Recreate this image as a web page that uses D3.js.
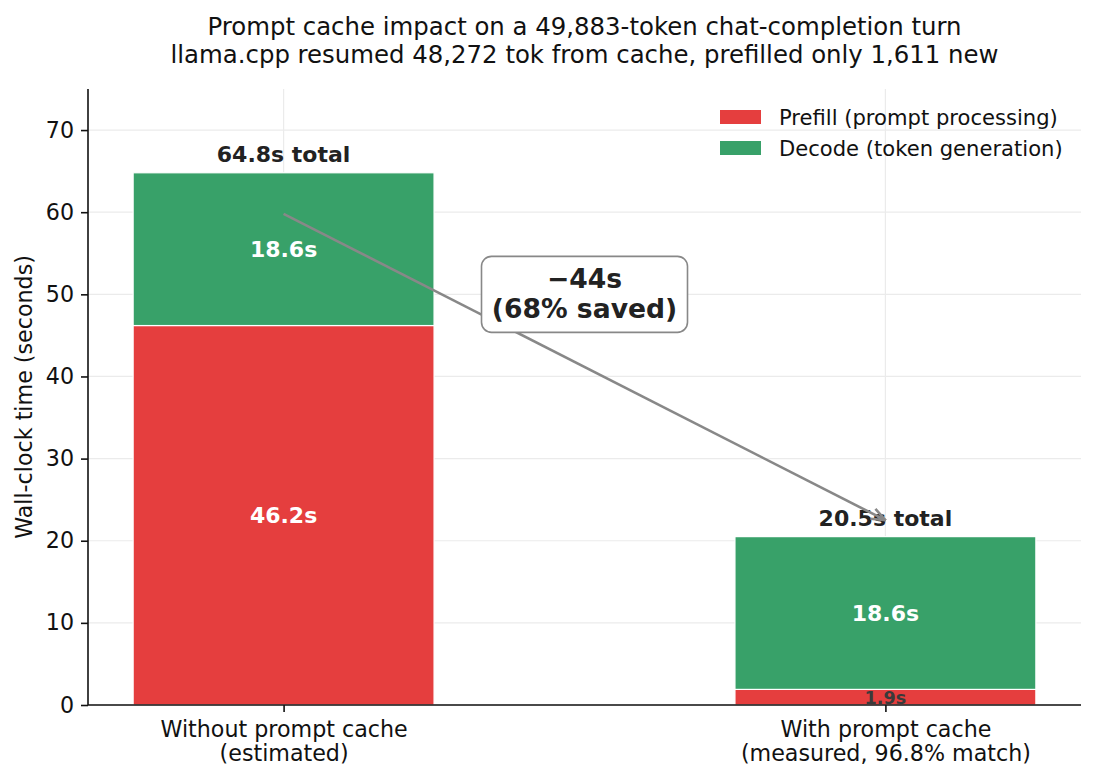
<!DOCTYPE html>
<html>
<head>
<meta charset="utf-8">
<script src="https://cdn.jsdelivr.net/npm/d3@7"></script>
<style>
  body { margin: 0; background: #fff; }
  svg text { font-family: "DejaVu Sans", sans-serif; }
</style>
</head>
<body>
<div id="chart"></div>
<script>
// data
const categories = ["Without prompt cache", "With prompt cache"];
const subLabels = ["(estimated)", "(measured, 96.8% match)"];
const prefill = [46.2, 1.9];
const decode = [18.6, 18.6];
const yTicks = [0, 10, 20, 30, 40, 50, 60, 70];
const seriesNames = ["Prefill (prompt processing)", "Decode (token generation)"];
const seriesColors = ["#e53e3e", "#38a169"];
const titleLines = [
  "Prompt cache impact on a 49,883-token chat-completion turn",
  "llama.cpp resumed 48,272 tok from cache, prefilled only 1,611 new"
];

var W = 1096, H = 780;
var margin = {top: 89, right: 15, bottom: 75, left: 88},
    width = W - margin.left - margin.right,
    height = H - margin.top - margin.bottom;

var totals = prefill.map(function(d, i) { return d + decode[i]; });

var x = d3.scaleLinear().domain([-0.325, 1.325]).range([0, width]);
var y = d3.scaleLinear().domain([0, 75]).range([height, 0]);
var barW = x(0.5) - x(0);

var svg = d3.select("#chart").append("svg")
    .attr("width", W)
    .attr("height", H)
    .style("background", "#fff");

// title, centred over the axes
svg.selectAll("text.title")
    .data(titleLines)
    .enter().append("text")
    .attr("class", "title")
    .attr("x", margin.left + width / 2)
    .attr("y", function(d, i) { return 35 + i * 28; })
    .attr("text-anchor", "middle")
    .attr("font-size", 24.4)
    .attr("fill", "#111")
    .text(function(d) { return d; });

var g = svg.append("g")
    .attr("transform", "translate(" + margin.left + "," + margin.top + ")");

// grid
g.append("g").selectAll("line")
    .data(yTicks)
    .enter().append("line")
    .attr("x1", 0).attr("x2", width)
    .attr("y1", function(d) { return y(d); })
    .attr("y2", function(d) { return y(d); })
    .attr("stroke", "#ebebeb").attr("stroke-width", 1.2);

g.append("g").selectAll("line")
    .data([0, 1])
    .enter().append("line")
    .attr("x1", function(d) { return x(d); })
    .attr("x2", function(d) { return x(d); })
    .attr("y1", 0).attr("y2", height)
    .attr("stroke", "#ebebeb").attr("stroke-width", 1.2);

// stacked bars
var stacks = [prefill, decode];
stacks.forEach(function(vals, s) {
  g.append("g").selectAll("rect")
      .data(vals)
      .enter().append("rect")
      .attr("x", function(d, i) { return x(i) - barW / 2; })
      .attr("width", barW)
      .attr("y", function(d, i) { return y((s ? prefill[i] : 0) + d); })
      .attr("height", function(d) { return y(0) - y(d); })
      .attr("fill", seriesColors[s])
      .attr("stroke", "#fff")
      .attr("stroke-width", 1.2);
});

// segment labels
stacks.forEach(function(vals, s) {
  g.append("g").selectAll("text")
      .data(vals)
      .enter().append("text")
      .attr("x", function(d, i) { return x(i); })
      .attr("y", function(d, i) {
        var mid = (s ? prefill[i] : 0) + d / 2;
        return y(mid) + (d < 3 ? 6.4 : 8);
      })
      .attr("text-anchor", "middle")
      .attr("font-weight", "bold")
      .attr("font-size", function(d) { return d < 3 ? 17.6 : 22; })
      .attr("fill", function(d) { return d < 3 ? "#3a3a3a" : "#fff"; })
      .text(function(d) { return d.toFixed(1) + "s"; });
});

// total labels
g.append("g").selectAll("text")
    .data(totals)
    .enter().append("text")
    .attr("x", function(d, i) { return x(i); })
    .attr("y", function(d) { return y(d + 1) - 2.5; })
    .attr("text-anchor", "middle")
    .attr("font-weight", "bold")
    .attr("font-size", 22)
    .attr("fill", "#222")
    .text(function(d) { return d.toFixed(1) + "s total"; });

// arrow from first total to second total (drawn above the labels)
var defs = svg.append("defs");
defs.append("marker")
    .attr("id", "head")
    .attr("viewBox", "0 0 16 16")
    .attr("refX", 15).attr("refY", 8)
    .attr("markerWidth", 16).attr("markerHeight", 16)
    .attr("markerUnits", "userSpaceOnUse")
    .attr("orient", "auto")
  .append("path")
    .attr("d", "M1,2.5 L15,8 L1,13.5")
    .attr("fill", "none")
    .attr("stroke", "#888")
    .attr("stroke-width", 2.6);

g.append("line")
    .attr("x1", x(0)).attr("y1", y(totals[0] - 5))
    .attr("x2", x(1)).attr("y2", y(totals[1] + 2))
    .attr("stroke", "#888")
    .attr("stroke-width", 2.6)
    .attr("marker-end", "url(#head)");

// savings annotation box
var saved = totals[0] - totals[1];
var boxLines = ["\u2212" + Math.round(saved) + "s",
                "(" + Math.round(saved / totals[0] * 100) + "% saved)"];
var bx = x(0.5), by = y(50);
g.append("rect")
    .attr("x", bx - 103).attr("y", by - 38)
    .attr("width", 206).attr("height", 76)
    .attr("rx", 10)
    .attr("fill", "#fff")
    .attr("stroke", "#888")
    .attr("stroke-width", 1.6);
g.append("g").selectAll("text")
    .data(boxLines)
    .enter().append("text")
    .attr("x", bx)
    .attr("y", function(d, i) { return by - 6 + i * 30; })
    .attr("text-anchor", "middle")
    .attr("font-weight", "bold")
    .attr("font-size", 26.6)
    .attr("fill", "#222")
    .text(function(d) { return d; });

// axes
var yAxis = g.append("g")
    .call(d3.axisLeft(y).tickValues(yTicks).tickSize(7).tickPadding(7));
var xAxis = g.append("g")
    .attr("transform", "translate(0," + height + ")")
    .call(d3.axisBottom(x).tickValues([0, 1]).tickSize(7).tickPadding(9)
      .tickFormat(function(d) { return categories[d]; }));

[xAxis, yAxis].forEach(function(a) {
  a.select(".domain").attr("stroke", "#111").attr("stroke-width", 1.6);
  a.selectAll(".tick line").attr("stroke", "#111").attr("stroke-width", 1.6);
  a.selectAll(".tick text")
      .attr("font-family", "DejaVu Sans")
      .attr("font-size", 22.2)
      .attr("fill", "#111");
});
yAxis.select(".domain").attr("d", "M0," + height + "V0");
xAxis.select(".domain").attr("d", "M0,0H" + width);

xAxis.selectAll(".tick").append("text")
    .attr("y", 56)
    .attr("text-anchor", "middle")
    .attr("font-size", 22.2)
    .attr("fill", "#111")
    .text(function(d) { return subLabels[d]; });

// y label
svg.append("text")
    .attr("transform", "translate(32," + (margin.top + height / 2) + ") rotate(-90)")
    .attr("text-anchor", "middle")
    .attr("font-size", 22.2)
    .attr("fill", "#111")
    .text("Wall-clock time (seconds)");

// legend
var legend = svg.append("g")
    .attr("transform", "translate(720,110)");
var items = legend.selectAll("g")
    .data(seriesNames)
    .enter().append("g")
    .attr("transform", function(d, i) { return "translate(0," + i * 31 + ")"; });
items.append("rect")
    .attr("width", 41).attr("height", 14)
    .attr("fill", function(d, i) { return seriesColors[i]; });
items.append("text")
    .attr("x", 59).attr("y", 14.5)
    .attr("font-size", 21.1)
    .attr("fill", "#111")
    .text(function(d) { return d; });
</script>
</body>
</html>
